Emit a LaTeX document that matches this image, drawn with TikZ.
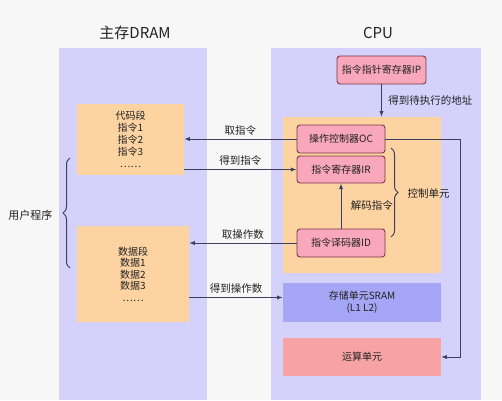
\documentclass[tikz,border=0pt]{standalone}
\usepackage{fontspec}
\setmainfont{Noto Sans CJK SC}
\usetikzlibrary{arrows.meta, positioning, calc, decorations.pathreplacing}
\definecolor{bgcol}{HTML}{F7F7F8}
\definecolor{panelcol}{HTML}{D4D2FA}
\definecolor{segcol}{HTML}{FDD3A2}
\definecolor{regcol}{HTML}{F9A8BC}
\definecolor{regdraw}{HTML}{7D3645}
\definecolor{sramcol}{HTML}{A5A6F6}
\definecolor{alucol}{HTML}{F7A3A5}
\definecolor{linecol}{HTML}{3C3F5E}
\definecolor{textcol}{HTML}{222222}
\tikzset{
  panel/.style={fill=panelcol, minimum width=148pt, minimum height=352pt, inner sep=0pt},
  seg/.style={fill=segcol, align=center, inner sep=0pt, text=textcol, font=\fontsize{10}{12}\selectfont},
  reg/.style={draw=regdraw, fill=regcol, rounded corners=3pt, line width=0.9pt, minimum width=88pt, minimum height=28pt, inner sep=0pt, text=textcol, font=\fontsize{10}{12}\selectfont},
  unit/.style={minimum width=158pt, inner sep=0pt, align=center, text=textcol, font=\fontsize{10}{12}\selectfont},
  arrow/.style={-{Latex[length=2mm]}, line width=1pt, linecol},
  note/.style={font=\fontsize{10.5}{12}\selectfont, text=textcol},
  brace/.style={decorate, decoration={brace, amplitude=7pt}, line width=1pt, linecol},
  title/.style={font=\fontsize{15}{17}\selectfont, text=textcol}
}
\begin{document}
\begin{tikzpicture}[x=1pt, y=-1pt]
    \fill[bgcol] (0,0) rectangle (502,400);
    \useasboundingbox (0,0) rectangle (502,400);
    % two panels
    \node[panel] (dram) at (133,224) {};
    \node[panel, minimum width=210pt] (cpu) at (376,224) {};
    \node[title] (dramtitle) at (135,33) {主存DRAM};
    \node[title] (cputitle) at (378,33) {CPU};

    % memory segments
    \node[seg, minimum width=107pt, minimum height=71pt] (code) at (130.5,139.5) {代码段\\指令1\\指令2\\指令3\\……};
    \node[seg, minimum width=112pt, minimum height=96pt, font=\fontsize{10}{11.5}\selectfont] (data) at (133,274) {数据段\\数据1\\数据2\\数据3\\……};

    % cpu parts
    \node[fill=segcol, minimum width=158pt, minimum height=156pt, inner sep=0pt] (ctrl) at (362,195) {};
    \node[reg, minimum width=89pt] (ip) at (381.5,70) {指令指针寄存器IP};
    \node[reg] (oc) at (341,139) {操作控制器OC};
    \node[reg, minimum height=27pt] (ir) at (341,169.5) {指令寄存器IR};
    \node[reg] (id) at (341,243) {指令译码器ID};
    \node[unit, fill=sramcol, minimum height=39pt] (sram) at (362,302.5) {存储单元SRAM\\(L1 L2)};
    \node[unit, fill=alucol, minimum height=38pt] (alu) at (362,357) {运算单元};

    % connectors
    \draw[arrow] (ip.south) -- node[note, right=3pt] {得到待执行的地址} (ip.south |- ctrl.north);
    \draw[arrow] (oc.west) -- node[note, above] {取指令} (code.east |- oc.west);
    \draw[arrow] (code.east |- ir.west) -- node[note, above] {得到指令} (ir.west);
    \draw[arrow] (id.west) -- node[note, above] {取操作数} (data.east |- id.west);
    \draw[arrow] (id.north) -- node[note, right=6pt] {解码指令} (ir.south);
    \coordinate (sramin) at ($(sram.west)+(0,-5)$);
    \draw[arrow] (data.east |- sramin) -- node[note, above] {得到操作数} (sramin);
    \draw[arrow] (oc.east) -- ++(75,0) |- (alu.east);

    % braces
    \coordinate (cutop) at (391,148);
    \coordinate (cubot) at (391,237);
    \draw[brace] (cutop) -- (cubot);
    \node[note, anchor=west] (culabel) at (404,193) {控制单元};
    \coordinate (prtop) at (70,158);
    \coordinate (prbot) at (70,268);
    \draw[brace] (prbot) -- (prtop);
    \node[note, anchor=east, font=\fontsize{11}{12}\selectfont] (prlabel) at (56,215) {用户程序};
\end{tikzpicture}
\end{document}
